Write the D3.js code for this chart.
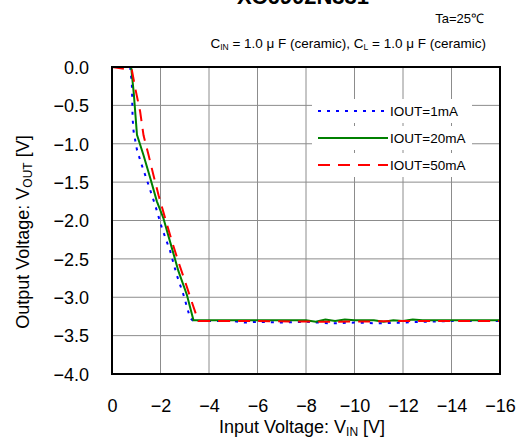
<!DOCTYPE html>
<html>
<head>
<meta charset="utf-8">
<script src="https://cdn.jsdelivr.net/npm/d3@7"></script>
<style>
  body { margin: 0; background: #fff; }
  svg text { font-family: "Liberation Sans", Arial, sans-serif; }
</style>
</head>
<body>
<div id="grafico"></div>
<script>
// valores
var xTicks = [0, -2, -4, -6, -8, -10, -12, -14, -16],
    yTicks = [0, -0.5, -1, -1.5, -2, -2.5, -3, -3.5, -4];

var vin1 = [0, -0.75, -0.82, -0.85, -0.89, -1.03, -1.23, -1.51, -1.78, -2.06, -2.4, -2.67, -2.95, -3.22, -3.35, -4, -5, -5.5, -6, -7, -8, -9, -10, -11, -12, -12.8, -14, -16],
    vout1 = [0, 0, -0.23, -0.67, -0.84, -1.08, -1.28, -1.54, -1.80, -2.10, -2.40, -2.71, -2.97, -3.27, -3.31, -3.31, -3.31, -3.33, -3.32, -3.33, -3.32, -3.34, -3.33, -3.34, -3.33, -3.32, -3.31, -3.31];

var vin20 = [0, -0.79, -0.9, -1.03, -1.3, -1.58, -1.85, -2.12, -2.47, -2.74, -3.09, -3.36, -6, -8, -8.4, -8.8, -9.2, -9.6, -10, -10.8, -11.2, -11.6, -12, -12.4, -12.8, -16],
    vout20 = [0, 0, -0.35, -0.885, -1.15, -1.45, -1.75, -1.97, -2.36, -2.66, -2.97, -3.30, -3.30, -3.30, -3.32, -3.29, -3.31, -3.29, -3.30, -3.30, -3.32, -3.30, -3.31, -3.29, -3.30, -3.30];

var vin50 = [0, -0.82, -0.96, -1.16, -1.30, -1.51, -1.71, -1.92, -2.19, -2.47, -2.74, -3.02, -3.29, -3.56, -6, -9, -12, -16],
    vout50 = [0, -0.04, -0.28, -0.58, -0.89, -1.15, -1.41, -1.67, -1.97, -2.27, -2.54, -2.80, -3.06, -3.31, -3.31, -3.32, -3.31, -3.31];

var series = [
  {nome: 'IOUT=1mA', vin: vin1, vout: vout1, cor: '#0000ff', dash: '3,6'},
  {nome: 'IOUT=20mA', vin: vin20, vout: vout20, cor: '#008000', dash: null},
  {nome: 'IOUT=50mA', vin: vin50, vout: vout50, cor: '#ff0000', dash: '12,8'}
];

var width = 516,
    height = 440,
    margin = {left: 112, right: 16, top: 67, bottom: 66};

var svg = d3.select("#grafico").append("svg")
    .attr("width", width)
    .attr("height", height);

var x = d3.scaleLinear().domain([0, -16]).range([margin.left, width - margin.right]);
var y = d3.scaleLinear().domain([0, -4]).range([margin.top, height - margin.bottom]);

// grade
svg.append("g").selectAll("line.gx")
    .data(xTicks.slice(1, -1)).enter().append("line")
    .attr("x1", d => x(d)).attr("x2", d => x(d))
    .attr("y1", y(0)).attr("y2", y(-4))
    .attr("stroke", "#8c8c8c").attr("stroke-width", 1);

svg.append("g").selectAll("line.gy")
    .data(yTicks.slice(1, -1)).enter().append("line")
    .attr("y1", d => y(d)).attr("y2", d => y(d))
    .attr("x1", x(0)).attr("x2", x(-16))
    .attr("stroke", "#8c8c8c").attr("stroke-width", 1);

// eixos (só os rótulos)
var xAxis = svg.append("g")
    .attr("transform", "translate(0," + (y(-4) + 35) + ")")
    .call(d3.axisBottom(x).tickValues(xTicks).tickSize(0).tickFormat(d3.format(".0f")));
xAxis.select(".domain").remove();
xAxis.selectAll("text").attr("font-size", "18px").attr("fill", "#000").attr("dy", "0")
    .attr("font-family", "Liberation Sans, Arial, sans-serif");

var yAxis = svg.append("g")
    .attr("transform", "translate(" + (x(0) - 20) + ",0)")
    .call(d3.axisLeft(y).tickValues(yTicks).tickSize(0).tickFormat(d3.format(".1f")));
yAxis.select(".domain").remove();
yAxis.selectAll("text").attr("font-size", "18px").attr("fill", "#000").attr("dy", "0.35em")
    .attr("font-family", "Liberation Sans, Arial, sans-serif");

// curvas
var linha = d3.line()
    .x(function(d) { return x(d[0]); })
    .y(function(d) { return y(d[1]); });

svg.append("g").selectAll("path")
    .data(series).enter().append("path")
    .attr("d", function(s) { return linha(s.vin.map(function(v, i) { return [v, s.vout[i]]; })); })
    .attr("fill", "none")
    .attr("stroke", d => d.cor)
    .attr("stroke-width", 2)
    .attr("stroke-dasharray", d => d.dash);

// moldura
svg.append("rect")
    .attr("x", x(0)).attr("y", y(0))
    .attr("width", x(-16) - x(0)).attr("height", y(-4) - y(0))
    .attr("fill", "none").attr("stroke", "#000").attr("stroke-width", 2);

// legenda
var leg = svg.append("g").selectAll("g")
    .data(series).enter().append("g")
    .attr("transform", function(d, i) { return "translate(318," + (111 + i * 27) + ")"; });
leg.append("rect").attr("x", -6).attr("y", -12).attr("width", 160).attr("height", 24).attr("fill", "#fff");
leg.append("line")
    .attr("x1", 0).attr("x2", 70)
    .attr("stroke", d => d.cor).attr("stroke-width", 2)
    .attr("stroke-dasharray", d => d.dash);
leg.append("text")
    .attr("x", 72).attr("dy", "0.36em")
    .attr("font-size", "13.5px")
    .text(d => d.nome);

// títulos
svg.append("text")
    .attr("x", 303).attr("y", 4)
    .attr("text-anchor", "middle")
    .attr("font-size", "22px").attr("font-weight", "bold")
    .text("XC6902N331");

svg.append("text")
    .attr("x", 484).attr("y", 23)
    .attr("text-anchor", "end").attr("font-size", "13px")
    .text("Ta=25℃");

var cond = svg.append("text")
    .attr("x", 486).attr("y", 48)
    .attr("text-anchor", "end").attr("font-size", "13.5px");
cond.append("tspan").text("C");
cond.append("tspan").attr("font-size", "8.5px").attr("dy", "2").text("IN");
cond.append("tspan").attr("dy", "-2").text(" = 1.0 μ F (ceramic), C");
cond.append("tspan").attr("font-size", "8.5px").attr("dy", "2").text("L");
cond.append("tspan").attr("dy", "-2").text(" = 1.0 μ F (ceramic)");

// rótulos dos eixos
var xl = svg.append("text")
    .attr("x", 302).attr("y", 433)
    .attr("text-anchor", "middle").attr("font-size", "18px");
xl.append("tspan").text("Input Voltage: V");
xl.append("tspan").attr("font-size", "12px").attr("dy", "3").text("IN");
xl.append("tspan").attr("dy", "-3").text(" [V]");

var yl = svg.append("text")
    .attr("transform", "translate(29,232) rotate(-90)")
    .attr("text-anchor", "middle").attr("font-size", "18px");
yl.append("tspan").text("Output Voltage: V");
yl.append("tspan").attr("font-size", "12px").attr("dy", "3").text("OUT");
yl.append("tspan").attr("dy", "-3").text(" [V]");
</script>
</body>
</html>
